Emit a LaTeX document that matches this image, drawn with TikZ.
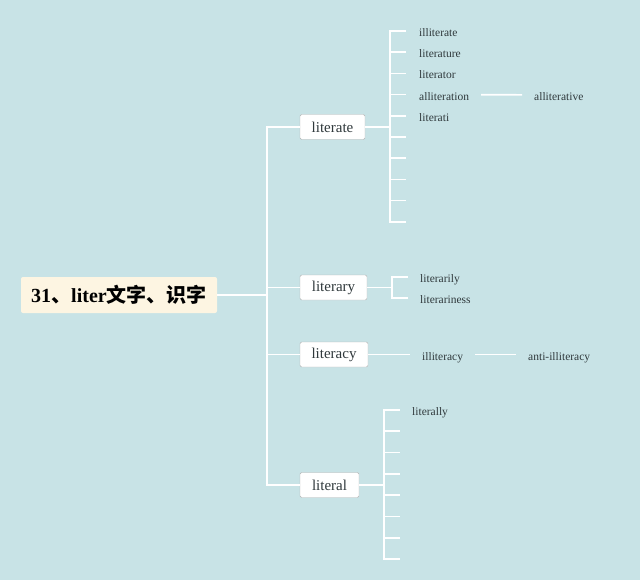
\documentclass[tikz,border=0pt]{standalone}
\usepackage{fontspec}
\setmainfont{Liberation Serif}
\newfontfamily\cjk{Noto Sans CJK SC}
\definecolor{bgblue}{HTML}{C8E3E6}
\definecolor{rootfill}{HTML}{FDF5E2}
\definecolor{inkgray}{HTML}{30393C}
\tikzset{
  branch/.style={draw=white,line width=1.7pt},
  wordbox/.style={draw=gray!60,fill=white,rounded corners=1.5pt,inner sep=0pt,minimum height=25pt,font=\fontsize{15}{17}\selectfont,text=inkgray},
  leaf/.style={anchor=west,inner sep=0pt,text height=11pt,text depth=0pt,font=\fontsize{11.5}{13}\selectfont,text=inkgray},
}
\begin{document}
\begin{tikzpicture}[x=1pt,y=-1pt]
\fill[bgblue] (0,0) rectangle (640,580);
\useasboundingbox (0,0) rectangle (640,580);
% root and first level
\node[fill=rootfill,rounded corners=2pt,minimum width=196pt,minimum height=36pt,font=\fontsize{20}{24}\selectfont\bfseries,text=black] (root) at (119,295) {31{\cjk 、}liter{\cjk 文字、识字}};
\node[wordbox,minimum width=65pt] (literate) at (332.5,127) {literate};
\node[wordbox,minimum width=67pt] (literary) at (333.5,287.5) {literary};
\node[wordbox,minimum width=68pt] (literacy) at (334,354.5) {literacy};
\node[wordbox,minimum width=59pt] (literal) at (329.5,485) {literal};
\coordinate (fork) at (267,295);
\draw[branch] (root) -- (fork);
\foreach \w in {literate,literary,literacy,literal}
  \draw[branch] (fork) |- (\w.west);
% literate
\coordinate (literate-fork) at (390,127);
\draw[branch] (literate) -- (literate-fork);
\foreach \i in {0,...,9} {
  \coordinate (literate-t\i) at (406,31+21.2*\i);
  \draw[branch] (literate-fork) |- (literate-t\i);
}
\foreach \w [count=\i from 0] in {illiterate,literature,literator,alliteration,literati}
  \node[leaf] (\w) at (419,31+21.2*\i) {\w};
\node[leaf] (alliterative) at (534,95) {alliterative};
\draw[branch,shorten <=12pt,shorten >=12pt] (alliteration) -- (alliterative);
% literary
\coordinate (literary-fork) at (392,287.5);
\draw[branch] (literary) -- (literary-fork);
\foreach \w/\y in {literarily/277,literariness/298} {
  \coordinate (literary-\w) at (408,\y);
  \draw[branch] (literary-fork) |- (literary-\w);
  \node[leaf] (\w) at (420,\y) {\w};
}
% literacy
\node[leaf] (illiteracy) at (422,354.5) {illiteracy};
\node[leaf] (anti-illiteracy) at (528,354.5) {anti-illiteracy};
\draw[branch,shorten >=12pt] (literacy) -- (illiteracy);
\draw[branch,shorten <=12pt,shorten >=12pt] (illiteracy) -- (anti-illiteracy);
% literal
\coordinate (literal-fork) at (384,485);
\draw[branch] (literal) -- (literal-fork);
\foreach \i in {0,...,7} {
  \coordinate (literal-t\i) at (400,410+21.3*\i);
  \draw[branch] (literal-fork) |- (literal-t\i);
}
\node[leaf] (literally) at (412,410) {literally};
\end{tikzpicture}
\end{document}
